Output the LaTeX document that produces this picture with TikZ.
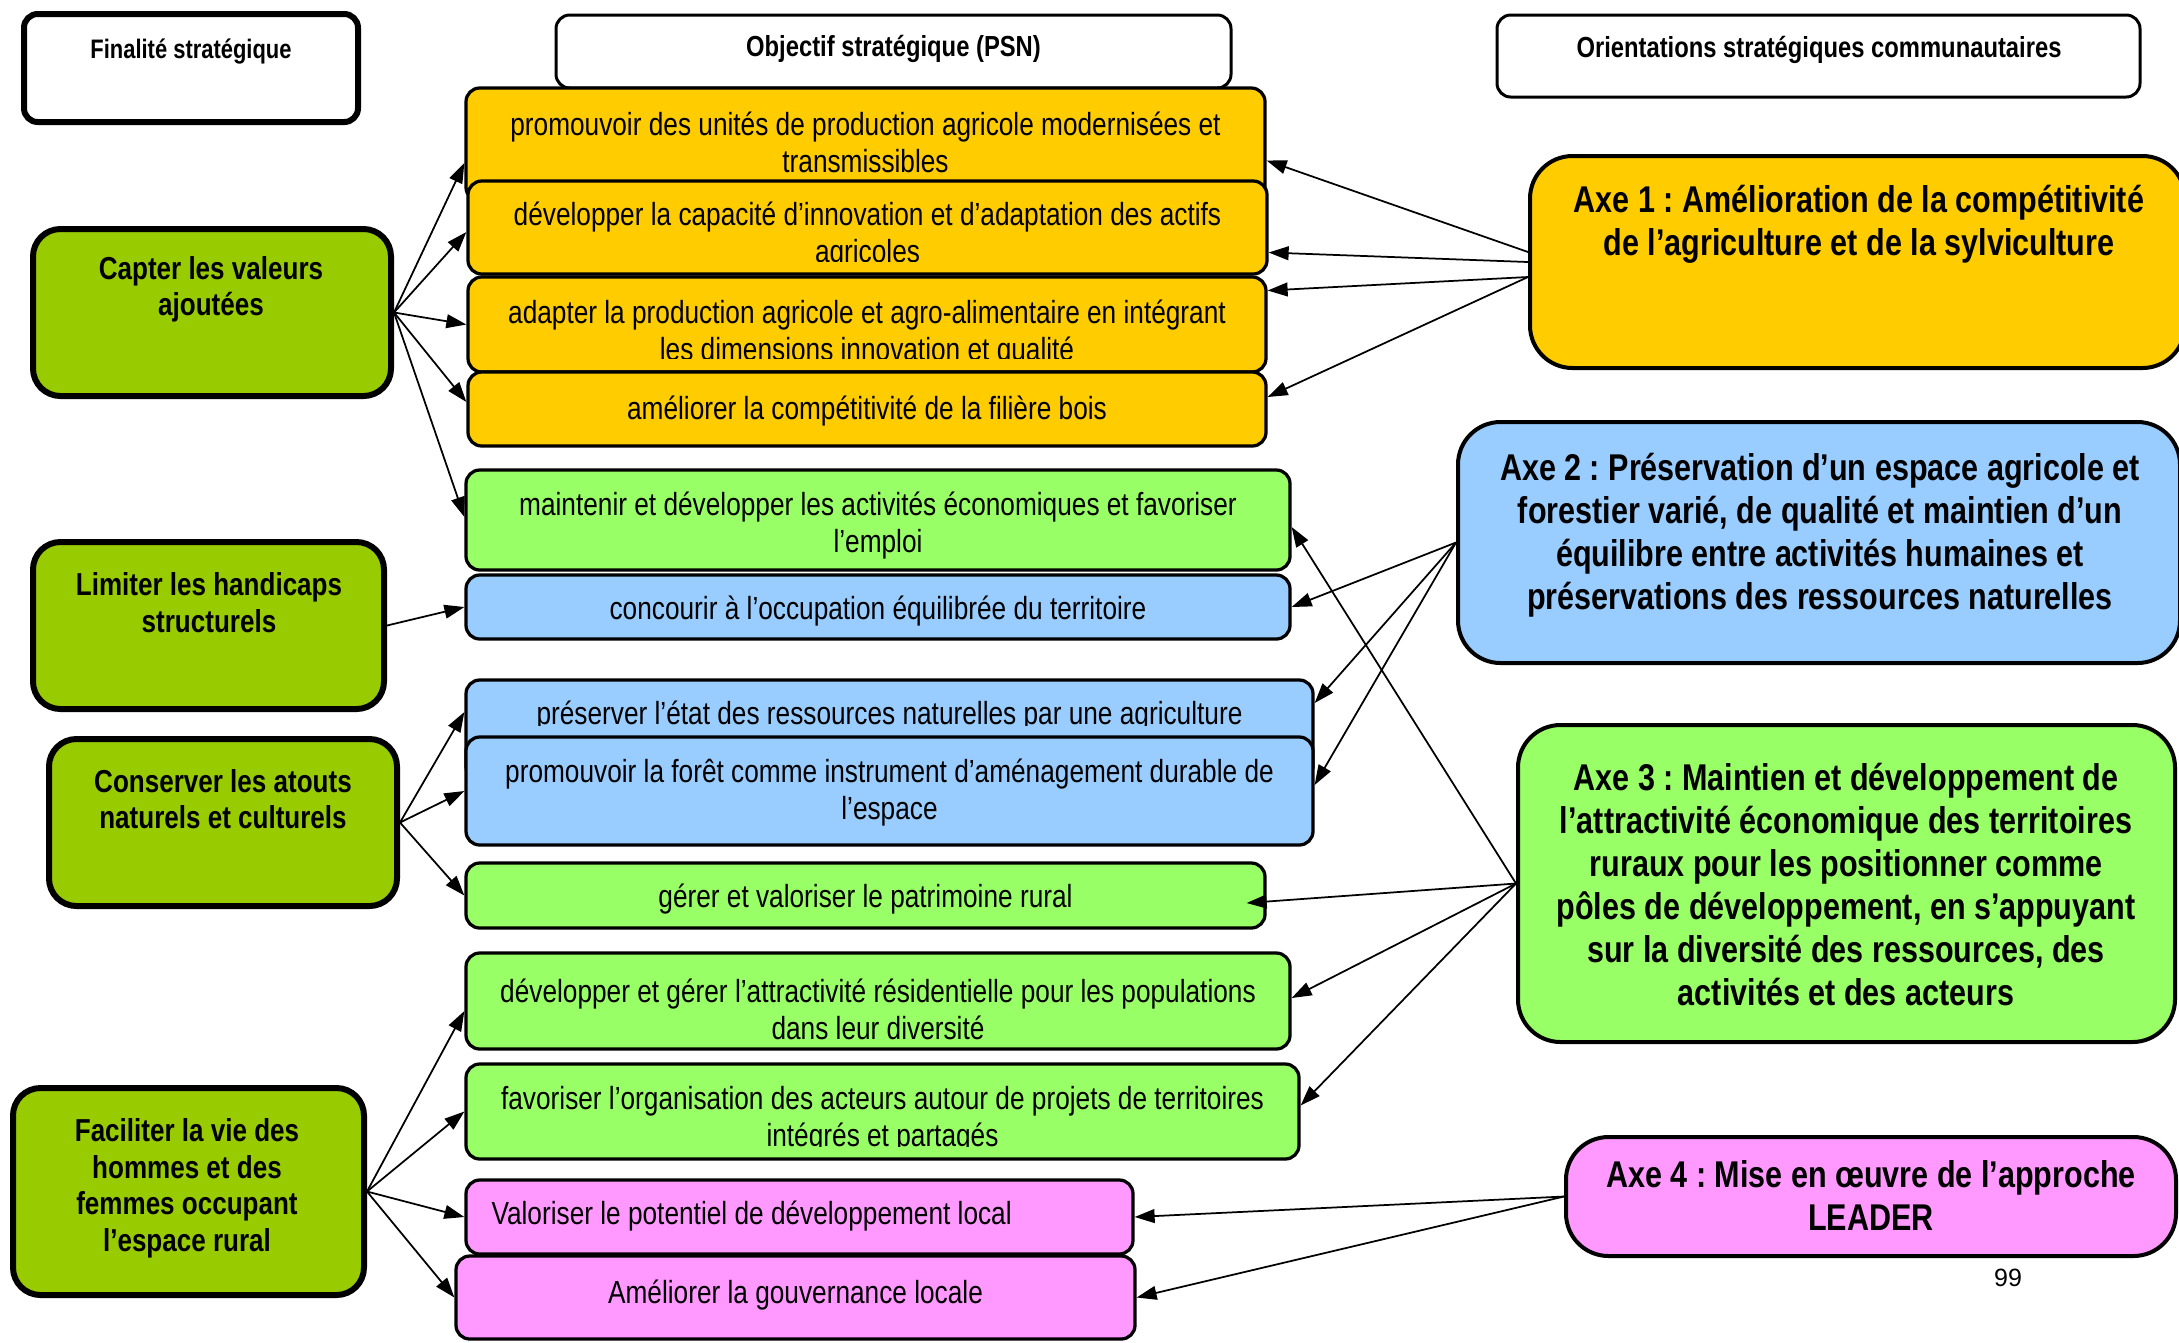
\documentclass[tikz,border=0pt]{standalone}
\usepackage{fontspec}
\setmainfont{Liberation Sans}
\newfontfamily\nar[FakeStretch=0.82]{Liberation Sans}
\usetikzlibrary{arrows.meta,calc}
\definecolor{cOr}{HTML}{FFCC00}
\definecolor{cLg}{HTML}{99FF66}
\definecolor{cBl}{HTML}{99CCFF}
\definecolor{cPk}{HTML}{FF99FF}
\definecolor{cDg}{HTML}{99CC00}
\frenchspacing
\newcommand{\mkbox}[6]{\node[#2, minimum width={(#5-#3)*0.4pt}, minimum height={(#6-#4)*0.4pt}] (#1) at ({(#3+#5)/2},{(#4+#6)/2}) {};}
\tikzset{
  objbox/.style={draw, line width=1.3pt, rounded corners=5.5pt, inner sep=0pt},
  leftbox/.style={draw, fill=cDg, line width=2.4pt, rounded corners=11pt, inner sep=0pt},
  axebox/.style={draw, line width=1.6pt, rounded corners=17pt, inner sep=0pt},
  headbox/.style={draw, fill=white, line width=1.2pt, rounded corners=5.5pt, inner sep=0pt},
  otxt/.style={inner sep=0pt, align=center, yshift=-1.5pt, font=\nar\fontsize{12.8}{14.8}\selectfont\frenchspacing},
  ltxt/.style={inner sep=0pt, align=center, yshift=-1.3pt, font=\nar\bfseries\fontsize{12.7}{14.6}\selectfont\frenchspacing},
  atxt/.style={inner sep=0pt, align=center, yshift=-1.3pt, font=\nar\bfseries\fontsize{14.9}{17.2}\selectfont\frenchspacing},
  htxt/.style={inner sep=0pt, align=center, yshift=-1.2pt, font=\nar\bfseries\fontsize{11.6}{13.6}\selectfont\frenchspacing},
  conn/.style={line width=0.7pt, -{Triangle[length=8pt,width=5.5pt]}},
}
\begin{document}
\begin{tikzpicture}[x=0.4pt,y=-0.4pt]
\useasboundingbox (0,0) rectangle (2179,1342);
\fill[white] (0,0) rectangle (2179,1342);

% headers
\mkbox{H1}{headbox, line width=2.4pt}{24}{14}{358}{122}
\node[htxt, font=\nar\bfseries\fontsize{10.7}{12.6}\selectfont] (H1t) at (191,49) {Finalité stratégique};
\mkbox{H2}{headbox}{556}{15}{1231}{88}
\node[htxt] (H2t) at (893.5,46) {Objectif stratégique (PSN)};
\mkbox{H3}{headbox}{1497}{15}{2140}{97}
\node[htxt] (H3t) at (1819,47) {Orientations stratégiques communautaires};

% left boxes
\mkbox{L1}{leftbox}{33}{229}{391}{396}
\node[ltxt] (L1t) at (211,286) {Capter les valeurs\\ajoutées};
\mkbox{L2}{leftbox}{33}{542}{384}{709}
\node[ltxt] (L2t) at (209,599.5) {Limiter les handicaps\\structurels};
\mkbox{L3}{leftbox}{49}{739}{397}{906}
\node[ltxt] (L3t) at (223,796) {Conserver les atouts\\naturels et culturels};
\mkbox{L4}{leftbox}{13}{1088}{364}{1295}
\node[ltxt] (L4t) at (187,1185) {Faciliter la vie des\\hommes et des\\femmes occupant\\l’espace rural};

% objectives
\mkbox{O1}{objbox, fill=cOr}{466}{88}{1265}{201}
\node[otxt] (O1t) at (865.5,138.5) {promouvoir des unités de production agricole modernisées et\\transmissibles};
\mkbox{O2}{objbox, fill=cOr}{468}{181}{1267}{274}
\begin{scope}
\clip (468,181) rectangle (1267,261);
\node[otxt] (O2t) at (867.5,232) {développer la capacité d’innovation et d’adaptation des actifs\\agricoles};
\end{scope}
\mkbox{O3}{objbox, fill=cOr}{468}{277}{1266}{372}
\begin{scope}
\clip (468,277) rectangle (1266,358);
\node[otxt] (O3t) at (867,330) {adapter la production agricole et agro-alimentaire en intégrant\\les dimensions innovation et qualité};
\end{scope}
\mkbox{O4}{objbox, fill=cOr}{468}{372}{1266}{446}
\node[otxt] (O4t) at (867,407) {améliorer la compétitivité de la filière bois};
\mkbox{O5}{objbox, fill=cLg}{466}{470}{1290}{570}
\node[otxt] (O5t) at (878,522) {maintenir et développer les activités économiques et favoriser\\l’emploi};
\mkbox{O6}{objbox, fill=cBl}{466}{575}{1290}{639}
\node[otxt] (O6t) at (878,607) {concourir à l’occupation équilibrée du territoire};
\mkbox{O7}{objbox, fill=cBl}{466}{680}{1313}{780}
\begin{scope}
\clip (466,680) rectangle (1313,725);
\node[otxt] (O7t) at (889.5,712) {préserver l’état des ressources naturelles par une agriculture};
\end{scope}
\mkbox{O8}{objbox, fill=cBl}{466}{737}{1313}{845}
\node[otxt] (O8t) at (889.5,789) {promouvoir la forêt comme instrument d’aménagement durable de\\l’espace};
\mkbox{O9}{objbox, fill=cLg}{466}{863}{1265}{928}
\node[otxt] (O9t) at (865.5,895) {gérer et valoriser le patrimoine rural};
\mkbox{O10}{objbox, fill=cLg}{466}{953}{1290}{1049}
\node[otxt] (O10t) at (878,1006) {développer et gérer l’attractivité résidentielle pour les populations\\dans leur diversité};
\mkbox{O11}{objbox, fill=cLg}{466}{1064}{1299}{1159}
\begin{scope}
\clip (466,1064) rectangle (1299,1146);
\node[otxt] (O11t) at (882.5,1116) {favoriser l’organisation des acteurs autour de projets de territoires\\intégrés et partagés};
\end{scope}
\mkbox{O12}{objbox, fill=cPk}{466}{1180}{1133}{1254}
\node[otxt, anchor=west] (O12t) at (491,1212) {Valoriser le potentiel de développement local};
\mkbox{O13}{objbox, fill=cPk}{456}{1256}{1135}{1339}
\node[otxt] (O13t) at (795.5,1291) {Améliorer la gouvernance locale};

% axes
\mkbox{A1}{axebox, fill=cOr}{1530}{156}{2185}{368}
\node[atxt] (A1t) at (1859,221.5) {Axe 1 : Amélioration de la compétitivité\\de l’agriculture et de la sylviculture};
\mkbox{A2}{axebox, fill=cBl}{1458}{422}{2180}{663}
\node[atxt] (A2t) at (1820,531.5) {Axe 2 : Préservation d’un espace agricole et\\forestier varié, de qualité et maintien d’un\\équilibre entre activités humaines et\\préservations des ressources naturelles};
\mkbox{A3}{axebox, fill=cLg}{1518}{725}{2175}{1042}
\node[atxt] (A3t) at (1846,881) {Axe 3 : Maintien et développement de\\l’attractivité économique des territoires\\ruraux pour les positionner comme\\pôles de développement, en s’appuyant\\sur la diversité des ressources, des\\activités et des acteurs};
\mkbox{A4}{axebox, fill=cPk}{1566}{1137}{2176}{1256}
\node[atxt] (A4t) at (1871,1192.5) {Axe 4 : Mise en œuvre de l’approche\\LEADER};

\node[inner sep=0pt, font=\fontsize{10}{12}\selectfont] (pg) at (2008,1278) {99};

% connectors from left boxes
\draw[conn] (L1.east) -- ($(O1.west)+(0,18.5)$);
\draw[conn] (L1.east) -- ($(O2.west)+(0,4.5)$);
\draw[conn] (L1.east) -- (O3.west);
\draw[conn] (L1.east) -- ($(O4.west)+(0,-7)$);
\draw[conn] (L1.east) -- ($(O5.west)+(0,-3)$);
\draw[conn] (L2.east) -- (O6.west);
\draw[conn] (L3.east) -- ($(O7.west)+(0,-18)$);
\draw[conn] (L3.east) -- (O8.west);
\draw[conn] (L3.east) -- (O9.west);
\draw[conn] (L4.east) -- ($(O10.west)+(0,10)$);
\draw[conn] (L4.east) -- (O11.west);
\draw[conn] (L4.east) -- (O12.west);
\draw[conn] (L4.east) -- (O13.west);

% connectors from axes
\draw[conn] ($(A1.west)+(0,-10)$) -- ($(O1.east)+(0,16)$);
\draw[conn] (A1.west) -- ($(O2.east)+(0,25)$);
\draw[conn] ($(A1.west)+(0,15)$) -- ($(O3.east)+(0,-34)$);
\draw[conn] ($(A1.west)+(0,15)$) -- ($(O4.east)+(0,-12)$);
\draw[conn] (A2.west) -- (O6.east);
\draw[conn] (A2.west) -- ($(O7.east)+(0,-27)$);
\draw[conn] (A2.west) -- ($(O8.east)+(0,-6)$);
\draw[conn] (A3.west) -- ($(O5.east)+(0,7)$);
\draw[conn] (A3.west) -- ($(O9.east)+(-20,7.5)$);
\draw[conn] (A3.west) -- ($(O10.east)+(0,-3)$);
\draw[conn] (A3.west) -- ($(O11.east)+(0,-6)$);
\draw[conn] (A4.west) -- (O12.east);
\draw[conn] (A4.west) -- (O13.east);
\end{tikzpicture}
\end{document}
